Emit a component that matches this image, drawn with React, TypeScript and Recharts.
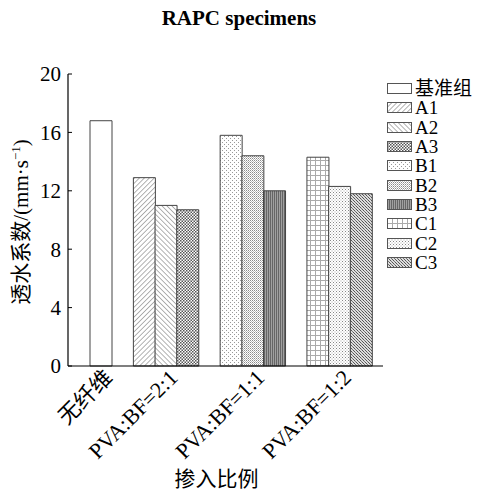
import React from "react";
import { BarChart, Bar, XAxis, YAxis, Cell, Label } from "recharts";

// series shown in the legend, in order
const seriesNames = ["基准组", "A1", "A2", "A3", "B1", "B2", "B3", "C1", "C2", "C3"];
// permeability coefficient, mm/s
const seriesValues = [16.8, 12.9, 11.0, 10.7, 15.8, 14.4, 12.0, 14.3, 12.3, 11.8];
// x axis groups and which series sit in each
const groupLabels = ["无纤维", "PVA:BF=2:1", "PVA:BF=1:1", "PVA:BF=1:2"];
const groupMembers = [[0], [1, 2, 3], [4, 5, 6], [7, 8, 9]];
const yTicks = [0, 4, 8, 12, 16, 20];
const yMinorTicks = [2, 6, 10, 14, 18];

const patternIds = ["pBase", "pA1", "pA2", "pA3", "pB1", "pB2", "pB3", "pC1", "pC2", "pC3"];

type Row = { slot: string; value: number | null; series: number; label: string };

// one row per bar, with an empty row between groups
const rows: Row[] = [];
groupMembers.forEach((members, g) => {
  if (g > 0) rows.push({ slot: `gap${g}`, value: null, series: -1, label: "" });
  members.forEach((s, i) => {
    const mid = Math.floor(members.length / 2);
    rows.push({
      slot: `s${s}`,
      value: seriesValues[s],
      series: s,
      label: i === mid ? groupLabels[g] : "",
    });
  });
});

const FONT = "'Liberation Serif', 'Noto Sans CJK SC', serif";

const Patterns = () => (
  <defs>
    <pattern id="pBase" width="4" height="4" patternUnits="userSpaceOnUse">
      <rect width="4" height="4" fill="#fff" />
    </pattern>
    <pattern id="pA1" width="3.5" height="3.5" patternUnits="userSpaceOnUse" patternTransform="rotate(45)">
      <rect width="3.5" height="3.5" fill="#fff" />
      <line x1="0" y1="0" x2="0" y2="3.5" stroke="#666" strokeWidth="1" />
    </pattern>
    <pattern id="pA2" width="3.5" height="3.5" patternUnits="userSpaceOnUse" patternTransform="rotate(-45)">
      <rect width="3.5" height="3.5" fill="#fff" />
      <line x1="0" y1="0" x2="0" y2="3.5" stroke="#666" strokeWidth="1" />
    </pattern>
    <pattern id="pA3" width="3" height="3" patternUnits="userSpaceOnUse">
      <rect width="3" height="3" fill="#fff" />
      <rect width="1.5" height="1.5" fill="#555" />
      <rect x="1.5" y="1.5" width="1.5" height="1.5" fill="#555" />
    </pattern>
    <pattern id="pB1" width="4" height="4" patternUnits="userSpaceOnUse">
      <rect width="4" height="4" fill="#fff" />
      <rect width="1" height="1" fill="#999" />
      <rect x="2" y="2" width="1" height="1" fill="#999" />
    </pattern>
    <pattern id="pB2" width="2" height="2" patternUnits="userSpaceOnUse">
      <rect width="2" height="2" fill="#fff" />
      <rect width="1" height="1" fill="#8a8a8a" />
      <rect x="1" y="1" width="1" height="1" fill="#bbb" />
    </pattern>
    <pattern id="pB3" width="2" height="2" patternUnits="userSpaceOnUse">
      <rect width="2" height="2" fill="#a0a0a0" />
      <rect width="1" height="2" fill="#666" />
    </pattern>
    <pattern id="pC1" width="5" height="5" patternUnits="userSpaceOnUse">
      <rect width="5" height="5" fill="#fff" />
      <line x1="0.5" y1="0" x2="0.5" y2="5" stroke="#aaa" strokeWidth="1" />
      <line x1="0" y1="0.5" x2="5" y2="0.5" stroke="#aaa" strokeWidth="1" />
    </pattern>
    <pattern id="pC2" width="3" height="3" patternUnits="userSpaceOnUse">
      <rect width="3" height="3" fill="#fff" />
      <rect width="1" height="1" fill="#888" />
      <rect x="1.5" y="1.5" width="1" height="1" fill="#aaa" />
    </pattern>
    <pattern id="pC3" width="3" height="3" patternUnits="userSpaceOnUse">
      <rect width="3" height="3" fill="#ddd" />
      <rect width="1" height="1" fill="#555" />
      <rect x="1" y="1" width="1" height="1" fill="#777" />
      <rect x="2" y="2" width="1" height="1" fill="#555" />
    </pattern>
  </defs>
);

const GroupTick = (props: any) => {
  const { x, y, payload } = props;
  const row = rows.find((r) => r.slot === payload.value);
  if (!row || !row.label) return <g />;
  const ax = x + 13;
  const ay = y + 5;
  return (
    <text
      x={ax}
      y={ay}
      transform={`rotate(-45, ${ax}, ${ay})`}
      textAnchor="end"
      fontSize={22}
      fontFamily={FONT}
      fill="#000"
    >
      {row.label}
    </text>
  );
};

const App = () => {
  return (
    <div style={{ position: "absolute", left: 0, top: 0, width: 480, height: 493, background: "#fff" }}>
      <div
        style={{
          position: "absolute",
          left: 0,
          width: 478,
          top: 6,
          textAlign: "center",
          fontFamily: FONT,
          fontWeight: "bold",
          fontSize: 21,
        }}
      >
        RAPC specimens
      </div>

      <BarChart
        width={480}
        height={493}
        data={rows}
        margin={{ top: 74, right: 97, left: 8, bottom: 17 }}
        barCategoryGap={0}
      >
        <Patterns />
        <XAxis
          dataKey="slot"
          interval={0}
          tickLine={false}
          tick={<GroupTick />}
          height={110}
          padding={{ left: 22, right: 11 }}
          axisLine={{ stroke: "#000", strokeWidth: 1.2 }}
        >
          <Label
            content={(p: any) => (
              <text
                x={p.viewBox.x + p.viewBox.width / 2 - 9}
                y={p.viewBox.y + 120}
                textAnchor="middle"
                fontSize={21}
                fontFamily={FONT}
                fill="#000"
              >
                掺入比例
              </text>
            )}
          />
        </XAxis>
        <YAxis
          yAxisId="minor"
          width={0}
          type="number"
          domain={[0, 20]}
          ticks={yMinorTicks}
          axisLine={false}
          tickSize={-2}
          tickLine={{ stroke: "#000" }}
          tick={() => <g />}
        />
        <YAxis
          yAxisId="main"
          width={60}
          type="number"
          domain={[0, 20]}
          ticks={yTicks}
          tickSize={-4}
          tickMargin={11}
          axisLine={{ stroke: "#000", strokeWidth: 1.2 }}
          tickLine={{ stroke: "#000" }}
          tick={{ fontSize: 21, fontFamily: FONT, fill: "#000" }}
        >
          <Label
            content={() => (
              <text
                x={28}
                y={222}
                transform="rotate(-90, 28, 222)"
                textAnchor="middle"
                fontSize={21}
                fontFamily={FONT}
                fill="#000"
              >
                透水系数/(mm·s
                <tspan dy={-8} fontSize={13}>−1</tspan>
                <tspan dy={8}>)</tspan>
              </text>
            )}
          />
        </YAxis>
        <Bar dataKey="value" yAxisId="main" isAnimationActive={false}>
          {rows.map((r, i) => (
            <Cell
              key={`cell-${i}`}
              fill={r.series >= 0 ? `url(#${patternIds[r.series]})` : "none"}
              stroke="#444"
              strokeWidth={1}
            />
          ))}
        </Bar>
      </BarChart>

      <div style={{ position: "absolute", left: 387, top: 79, fontFamily: FONT, fontSize: 19 }}>
        {seriesNames.map((name, i) => (
          <div key={name} style={{ display: "flex", alignItems: "center", height: 19.3 }}>
            <svg width={25} height={11} style={{ marginRight: 3 }}>
              <rect x={0.5} y={0.5} width={24} height={10} fill={`url(#${patternIds[i]})`} stroke="#555" strokeWidth={1} />
            </svg>
            <span style={{ lineHeight: "19px" }}>{name}</span>
          </div>
        ))}
      </div>
    </div>
  );
};

export default App;
